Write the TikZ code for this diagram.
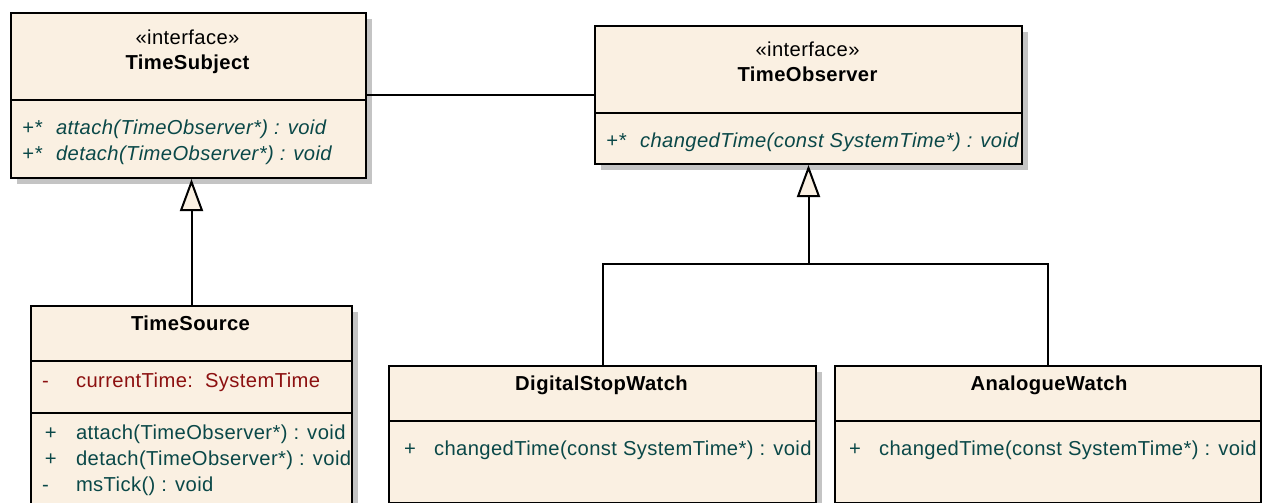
\documentclass[tikz,border=0pt]{standalone}
\usepackage{fontspec}
\setmainfont{Liberation Sans}[LetterSpace=2]
\usetikzlibrary{arrows.meta,shadows}
\definecolor{boxfill}{RGB}{250,240,226}
\definecolor{opcolor}{RGB}{10,72,72}
\definecolor{attrcolor}{RGB}{140,16,16}
\definecolor{shadowc}{RGB}{196,196,196}
\begin{document}
\begin{tikzpicture}[x=1pt,y=-1pt,line width=2pt,
  classbox/.style={draw, fill=boxfill, rectangle, inner sep=0pt, anchor=north west,
    drop shadow={shadow xshift=6pt, shadow yshift=-6pt, fill=shadowc, opacity=1}},
  lbl/.style={inner sep=0pt, text height=14.3pt, text depth=0pt,
    font=\fontsize{20.2}{24}\selectfont},
  title/.style={lbl, font=\fontsize{20.2}{24}\selectfont\bfseries},
  absop/.style={lbl, anchor=west, text=opcolor, font=\fontsize{20.2}{24}\selectfont\itshape},
  op/.style={lbl, anchor=west, text=opcolor},
  attr/.style={lbl, anchor=west, text=attrcolor},
  gen/.style={-{Triangle[length=32pt,width=23pt,fill=boxfill]}}]
\useasboundingbox (0,0) rectangle (1262,503);
\clip (0,0) rectangle (1262,503);

% class boxes
\node[classbox, minimum width=355pt, minimum height=165pt] (subj) at (10,12) {};
\node[classbox, minimum width=427pt, minimum height=138pt] (obs) at (594,25) {};
\node[classbox, minimum width=321pt, minimum height=225pt] (src) at (30,305) {};
\node[classbox, minimum width=427pt, minimum height=137pt] (dig) at (388,365) {};
\node[classbox, minimum width=426pt, minimum height=137pt] (ana) at (834,365) {};

% compartment separators
\draw (subj.west |- 0,100) -- (subj.east |- 0,100);
\draw (obs.west |- 0,113) -- (obs.east |- 0,113);
\draw (src.west |- 0,361) -- (src.east |- 0,361);
\draw (src.west |- 0,413) -- (src.east |- 0,413);
\draw (dig.west |- 0,421) -- (dig.east |- 0,421);
\draw (ana.west |- 0,421) -- (ana.east |- 0,421);

% TimeSubject
\node[lbl] (subjst) at (187.5,37) {«interface»};
\node[title] (subjname) at (187.5,62) {TimeSubject};
\node[absop] (subjv1) at (21,127.5) {+*};
\node[absop] (subjop1) at (55,127.5) {attach(TimeObserver*) : void};
\node[absop] (subjv2) at (21,153) {+*};
\node[absop] (subjop2) at (55,153) {detach(TimeObserver*) : void};

% TimeObserver
\node[lbl] (obsst) at (807.5,49) {«interface»};
\node[title] (obsname) at (807.5,74.5) {TimeObserver};
\node[absop] (obsv1) at (605,140) {+*};
\node[absop] (obsop1) at (639,140) {changedTime(const SystemTime*) : void};

% TimeSource
\node[title] (srcname) at (190.5,323.5) {TimeSource};
\node[attr] (srcv0) at (41,380) {-};
\node[attr] (srcat) at (75,380) {currentTime:\ \ SystemTime};
\node[op] (srcv1) at (44,432.5) {+};
\node[op] (srcop1) at (75,432.5) {attach(TimeObserver*) : void};
\node[op] (srcv2) at (44,458.5) {+};
\node[op] (srcop2) at (75,458.5) {detach(TimeObserver*) : void};
\node[op] (srcv3) at (41,484) {-};
\node[op] (srcop3) at (75,484) {msTick() : void};

% DigitalStopWatch
\node[title] (digname) at (601.5,383.5) {DigitalStopWatch};
\node[op] (digv1) at (403,448.5) {+};
\node[op] (digop1) at (433,448.5) {changedTime(const SystemTime*) : void};

% AnalogueWatch
\node[title] (ananame) at (1049,383.5) {AnalogueWatch};
\node[op] (anav1) at (848,448.5) {+};
\node[op] (anaop1) at (878,448.5) {changedTime(const SystemTime*) : void};

% association
\draw (subj.east) -- (subj.east -| obs.west);

% generalizations
\coordinate (fork) at (obs.south |- 0,264);
\draw (dig.north) |- (fork) -| (ana.north);
\draw[gen] (fork) -- (obs.south);
\draw[gen] (src.north) -- (src.north |- subj.south);
\end{tikzpicture}
\end{document}
